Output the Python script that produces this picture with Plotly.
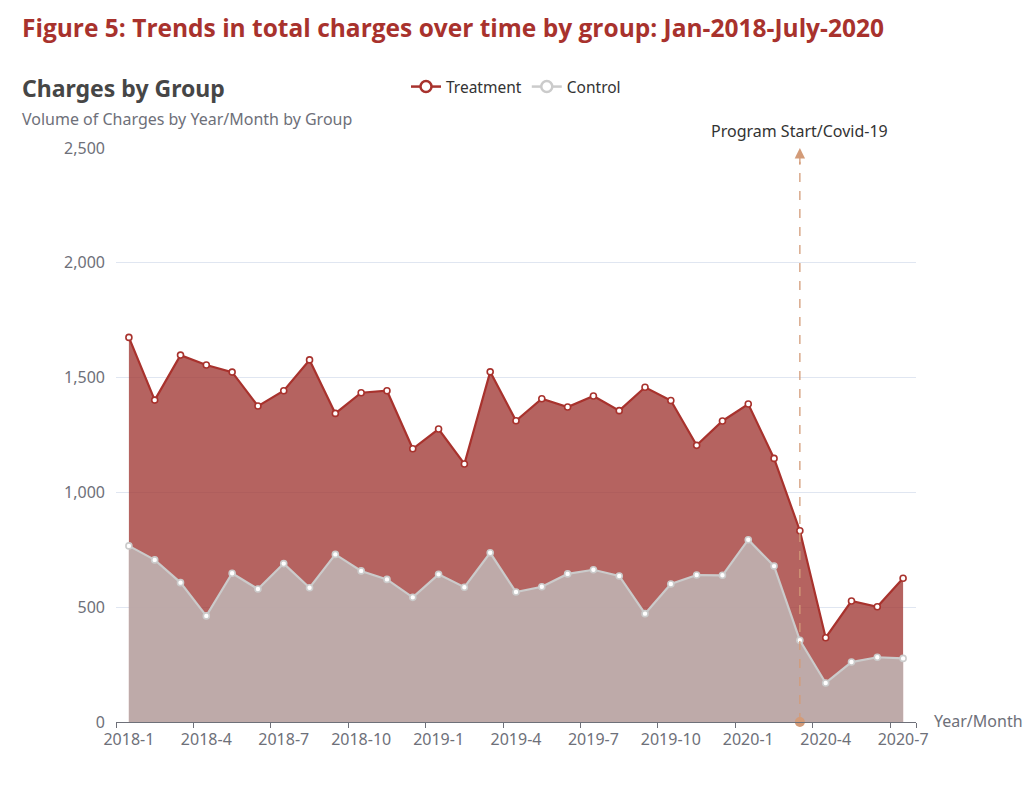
import plotly.graph_objects as go

months = [f"{y}-{m}" for y in (2018, 2019) for m in range(1, 13)] + [f"2020-{m}" for m in range(1, 8)]
treatment = [1675, 1402, 1598, 1555, 1524, 1376, 1443, 1577, 1344, 1434, 1443, 1190, 1276, 1124,
             1525, 1312, 1408, 1372, 1420, 1356, 1458, 1400, 1205, 1311, 1385, 1148, 833,
             367, 527, 502, 626]
control = [767, 706, 607, 462, 648, 579, 690, 585, 730, 658, 621, 543, 643, 587,
           737, 566, 589, 645, 663, 636, 472, 601, 640, 639, 794, 679, 356,
           170, 261, 282, 277]
tick_labels = months[::3]
event_month = "2020-3"
event_label = "Program Start/Covid-19"

idx = list(range(len(months)))
ev = months.index(event_month)

RED = "#A8322D"
GRAY_LINE = "#CBCBCB"
MARK = "#D39B78"
AXIS = "#6E7079"
FONT = "Noto Sans"

fig = go.Figure()
fig.add_trace(go.Scatter(
    x=idx, y=treatment, mode="lines+markers", fill="tozeroy",
    fillcolor="rgba(163,60,56,0.8)",
    line=dict(color=RED, width=2.2),
    marker=dict(symbol="circle", size=6, color="white", line=dict(color=RED, width=1.6)),
    showlegend=False, cliponaxis=False, name="Treatment"))
fig.add_trace(go.Scatter(
    x=idx, y=control, mode="lines+markers", fill="tozeroy",
    fillcolor="rgba(192,182,182,0.85)",
    line=dict(color=GRAY_LINE, width=2.2),
    marker=dict(symbol="circle", size=6, color="white", line=dict(color=GRAY_LINE, width=1.6)),
    showlegend=False, cliponaxis=False, name="Control"))
# legend entries
for nm, col in (("Treatment", RED), ("Control", GRAY_LINE)):
    fig.add_trace(go.Scatter(
        x=[None], y=[None], mode="lines+markers", name=nm,
        line=dict(color=col, width=2.5),
        marker=dict(symbol="circle", size=11, color="white", line=dict(color=col, width=2.5))))

# event marker line
fig.add_shape(type="line", xref="x", yref="y", x0=ev, x1=ev, y0=0, y1=2440,
              line=dict(color=MARK, width=1.3, dash="dash"))
fig.add_annotation(x=ev, y=2500, ax=ev, ay=2420, xref="x", yref="y", axref="x", ayref="y",
                   text="", showarrow=True, arrowhead=2, arrowsize=1.6, arrowwidth=1.3,
                   arrowcolor=MARK)
fig.add_annotation(x=ev, y=2500, xref="x", yref="y", text=event_label, showarrow=False,
                   yshift=17, font=dict(family=FONT, size=16, color="#333333"))
fig.add_trace(go.Scatter(x=[ev], y=[0], mode="markers", showlegend=False, cliponaxis=False,
                         marker=dict(size=10, color=MARK), hoverinfo="skip"))

def px(xp):
    return (xp - 116) / 800

def py(yp):
    return (722 - yp) / 574

fig.add_annotation(xref="paper", yref="paper", x=px(20), y=py(27), xanchor="left", yanchor="middle",
                   text="<b>Figure 5: Trends in total charges over time by group: Jan-2018-July-2020</b>",
                   showarrow=False, font=dict(family="Open Sans", size=24.5, color="#A8322D"))
fig.add_annotation(xref="paper", yref="paper", x=px(20), y=py(88), xanchor="left", yanchor="middle",
                   text="<b>Charges by Group</b>", showarrow=False,
                   font=dict(family=FONT, size=23, color="#464646"))
fig.add_annotation(xref="paper", yref="paper", x=px(20), y=py(119), xanchor="left", yanchor="middle",
                   text="Volume of Charges by Year/Month by Group", showarrow=False,
                   font=dict(family=FONT, size=16, color=AXIS))
fig.add_annotation(xref="paper", yref="paper", x=px(932), y=py(721), xanchor="left", yanchor="middle",
                   text="Year/Month", showarrow=False,
                   font=dict(family=FONT, size=16, color=AXIS))

fig.update_layout(
    width=1025, height=801,
    margin=dict(l=116, r=109, t=148, b=79),
    paper_bgcolor="white", plot_bgcolor="white",
    font=dict(family=FONT, color=AXIS),
    legend=dict(orientation="h", x=px(406), y=py(87), xanchor="left", yanchor="middle",
                font=dict(family=FONT, size=15.5, color="#333333"), itemwidth=30,
                bgcolor="rgba(0,0,0,0)", tracegroupgap=0),
    xaxis=dict(range=[-0.5, len(months) - 0.5], tickmode="array",
               tickvals=idx[::3], ticktext=tick_labels, ticks="", showgrid=False,
               showline=True, linecolor=AXIS, linewidth=1, zeroline=False,
               ticklabelstandoff=3,
               tickfont=dict(family=FONT, size=16, color=AXIS),
               minor=dict(tickmode="array", tickvals=[i - 0.5 for i in idx[::3]] + [len(months) - 0.5],
                          ticks="outside", ticklen=5, tickcolor=AXIS, showgrid=False)),
    yaxis=dict(range=[0, 2500], tickvals=[0, 500, 1000, 1500, 2000, 2500],
               tickformat=",", showgrid=True, gridcolor="#E0E6F1", gridwidth=1,
               zeroline=False, showline=False, ticks="", ticklabelstandoff=10,
               tickfont=dict(family=FONT, size=16, color=AXIS)),
)

fig.write_html("out.html")
